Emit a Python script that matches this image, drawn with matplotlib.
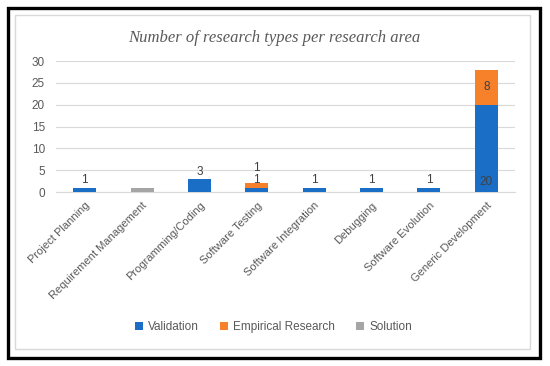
import numpy as np
import matplotlib
matplotlib.use("Agg")
from matplotlib import pyplot as plt
from matplotlib.patches import Rectangle

areas = ["Project Planning", "Requirement Management", "Programming/Coding",
         "Software Testing", "Software Integration", "Debugging",
         "Software Evolution", "Generic Development"]
validation = [1, 0, 3, 1, 1, 1, 1, 20]
empirical = [0, 0, 0, 1, 0, 0, 0, 8]
solution = [0, 1, 0, 0, 0, 0, 0, 0]

blue = "#1a6ec6"
orange = "#f7802a"
gray = "#a5a5a5"
txt = "#595959"

plt.rcParams['font.family'] = ['Liberation Sans', 'DejaVu Sans']

fig = plt.figure(figsize=(5.5, 3.66), dpi=100)
ax = fig.add_axes([0.1018, 0.4754, 0.8345, 0.3579])

x = np.arange(len(areas))
w = 0.4
val = np.array(validation)
emp = np.array(empirical)
sol = np.array(solution)
ax.bar(x, val, w, color=blue, label="Validation", zorder=3)
ax.bar(x, emp, w, bottom=val, color=orange, label="Empirical Research", zorder=3)
ax.bar(x, sol, w, bottom=val + emp, color=gray, label="Solution", zorder=3)

# data labels
for i in x:
    v, e = val[i], emp[i]
    if v > 0:
        if v >= 10:
            ax.annotate(str(v), (i, 0), xytext=(0, 3), textcoords="offset points",
                        ha="center", va="bottom", fontsize=8.5, color="#404040", zorder=4)
        else:
            ax.annotate(str(v), (i, v), xytext=(0, 1), textcoords="offset points",
                        ha="center", va="bottom", fontsize=8.5, color="#404040", zorder=4)
    if e > 0:
        if e >= 5:
            ax.annotate(str(e), (i, v + e / 2), ha="center", va="center",
                        fontsize=8.5, color="#404040", zorder=4)
        else:
            ax.annotate(str(e), (i, v + e), xytext=(0, 7), textcoords="offset points",
                        ha="center", va="bottom", fontsize=8.5, color="#404040", zorder=4)

ax.set_xlim(-0.5, 7.5)
ax.set_ylim(0, 30)
ax.set_yticks([0, 5, 10, 15, 20, 25, 30])
ax.grid(axis="y", color="#d9d9d9", linewidth=0.8, zorder=0)
for s in ["top", "right", "left"]:
    ax.spines[s].set_visible(False)
ax.spines["bottom"].set_color("#d9d9d9")
ax.tick_params(axis="both", length=0, colors=txt, labelsize=8.5)
ax.tick_params(axis="y", pad=8)
ax.set_xticks(x)
ax.set_xticklabels(areas, rotation=45, ha="right", rotation_mode="anchor", fontsize=8)
ax.tick_params(axis="x", pad=6)

fig.text(0.498, 1 - 38 / 366, "Number of research types per research area",
         ha="center", va="center", fontsize=12, style="italic",
         family="Liberation Serif", color=txt)

fig.legend(loc="center", bbox_to_anchor=(0.497, 1 - 327 / 366), ncol=3, frameon=False,
           fontsize=8.5, handlelength=0.7, handleheight=0.7, handletextpad=0.4,
           columnspacing=1.8, labelcolor=txt)

# chart borders
fig.patches.append(Rectangle((15 / 550, 1 - 349 / 366), 515 / 550, 334 / 366,
                             transform=fig.transFigure, fill=False,
                             edgecolor="#d9d9d9", linewidth=1))
fig.patches.append(Rectangle((7.5 / 550, 1 - 357.5 / 366), 532 / 550, 349.5 / 366,
                             transform=fig.transFigure, fill=False,
                             edgecolor="black", linewidth=2.4))

fig.savefig("out.png", dpi=100)
